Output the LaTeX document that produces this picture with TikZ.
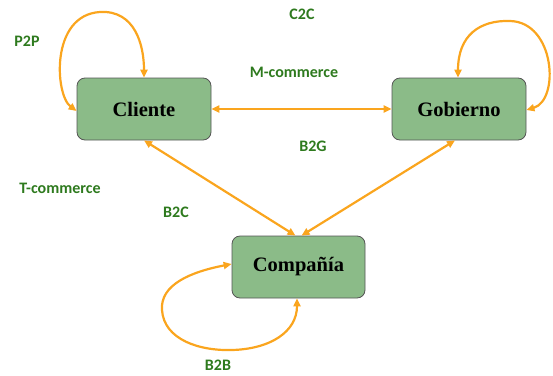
\documentclass[tikz,border=0pt]{standalone}
\usepackage{fontspec}
\setmainfont{Liberation Serif}
\newfontfamily\lblfont{Carlito}
\usetikzlibrary{arrows.meta}
\definecolor{boxfill}{RGB}{139,187,136}
\definecolor{boxline}{RGB}{85,85,85}
\definecolor{arr}{RGB}{250,165,30}
\definecolor{lblgreen}{RGB}{46,122,30}
\tikzset{
  entity/.style={draw=boxline, line width=0.8pt, fill=boxfill, rounded corners=8pt,
    minimum width=134pt, minimum height=62pt, inner sep=0pt,
    font=\fontsize{20.5}{22}\selectfont\bfseries},
  flow/.style={draw=arr, line width=2.2pt,
    {Triangle[length=8pt,width=7pt]}-{Triangle[length=8pt,width=7pt]}},
  lbl/.style={text=lblgreen, inner sep=0pt, font=\lblfont\fontsize{16}{18}\selectfont\bfseries}
}
\begin{document}
\begin{tikzpicture}[x=1pt,y=-1pt]
\useasboundingbox (0,0) rectangle (553,375);
\node[entity] (c) at (144,109) {Cliente};
\node[entity] (g) at (459,109) {Gobierno};
\node[entity, minimum width=133pt, minimum height=62pt] (p) at (298.5,267) {Compañía};

\draw[flow] (c.east) -- (g.west);
\draw[flow] (c.south) -- ([xshift=-3pt]p.north);
\draw[flow] ([xshift=-4pt]g.south) -- ([xshift=3pt]p.north);

\draw[flow] ([yshift=-2pt]c.west) .. controls (55,95) and (50,15) .. (100,12)
  .. controls (135,10) and (144,45) .. (c.north);
\draw[flow] ([xshift=-1pt]g.north) .. controls (458,35) and (480,20) .. (510,21)
  .. controls (555,22) and (560,100) .. ([yshift=-1pt]g.east);
\draw[flow] ([yshift=3pt]p.west) .. controls (190,272) and (160,285) .. (162,310)
  .. controls (164,340) and (200,351) .. (232,350)
  .. controls (270,349) and (297,332) .. ([xshift=-1.5pt]p.south);

\node[lbl] (l1) at (27,41) {P2P};
\node[lbl] (l2) at (302,14) {C2C};
\node[lbl] (l3) at (294,72) {M-commerce};
\node[lbl] (l4) at (313,146) {B2G};
\node[lbl] (l5) at (60,188) {T-commerce};
\node[lbl] (l6) at (176,212) {B2C};
\node[lbl] (l7) at (218,365) {B2B};
\end{tikzpicture}
\end{document}
